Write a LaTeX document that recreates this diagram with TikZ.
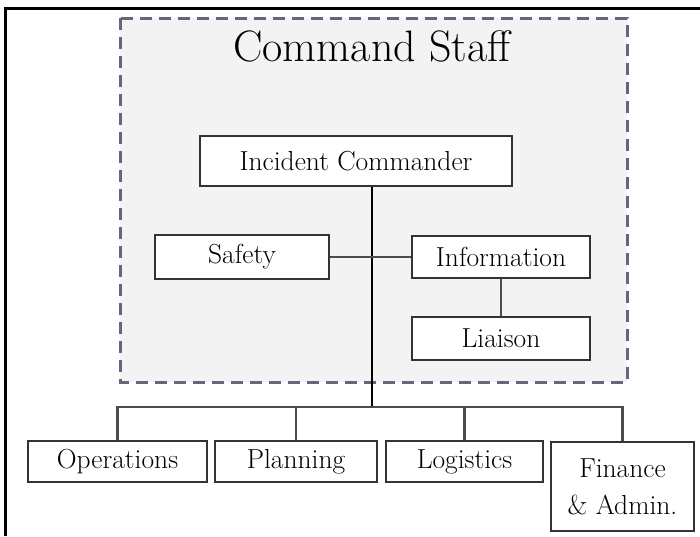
\documentclass[tikz,border=0pt]{standalone}
\usetikzlibrary{positioning}
\definecolor{staffedge}{HTML}{66667A}
\definecolor{stafffill}{HTML}{F3F3F3}
\begin{document}
\begin{tikzpicture}[x=1pt,y=-1pt,
  unit/.style={draw=black!80, line width=2.2pt, fill=white, inner sep=0pt, align=center,
    font=\fontsize{27.5}{37}\selectfont},
  link/.style={line width=2.2pt, draw=black!70}]

\useasboundingbox (0,0) rectangle (700,536);

% outer frame
\draw[line width=3pt] (5,536) -- (5,8) -- (700,8);

% command staff area
\draw[dash pattern=on 12pt off 7pt, line width=3pt, draw=staffedge, fill=stafffill] (120,18) rectangle (627,382);
\node (title) at (372,46) {\fontsize{44}{50}\selectfont Command Staff};

% command staff units
\node[unit, minimum width=312pt, minimum height=50pt] (ic) at (356,161) {Incident Commander};
\node[unit, minimum width=174pt, minimum height=44pt] (safety) at (242,257) {Safety};
\node[unit, minimum width=178pt, minimum height=42pt] (info) at (501,257) {Information};
\node[unit, minimum width=178pt, minimum height=43pt] (liaison) at (501,338.5) {Liaison};

% general staff sections
\node[unit, minimum width=179pt, minimum height=41pt] (ops) at (117.5,461.5) {Operations};
\node[unit, minimum width=162pt, minimum height=41pt] (plan) at (296,461.5) {Planning};
\node[unit, minimum width=157pt, minimum height=41pt] (logi) at (464.5,461.5) {Logistics};
\node[unit, minimum width=143pt, minimum height=89pt, anchor=north] (fin) at (622.5,441) {Finance\\ \& Admin.};

% connectors
\coordinate (bus) at (372,407);
\draw[line width=2pt] (ic.south -| bus) -- (bus);
\draw[link] (safety) -- (info);
\draw[link] (info) -- (liaison);
\draw[link] (ops.north) -- (ops.north |- bus) -- (fin.north |- bus) -- (fin.north);
\foreach \s in {plan, logi}
  \draw[link] (\s.north) -- (\s.north |- bus);

\end{tikzpicture}
\end{document}
